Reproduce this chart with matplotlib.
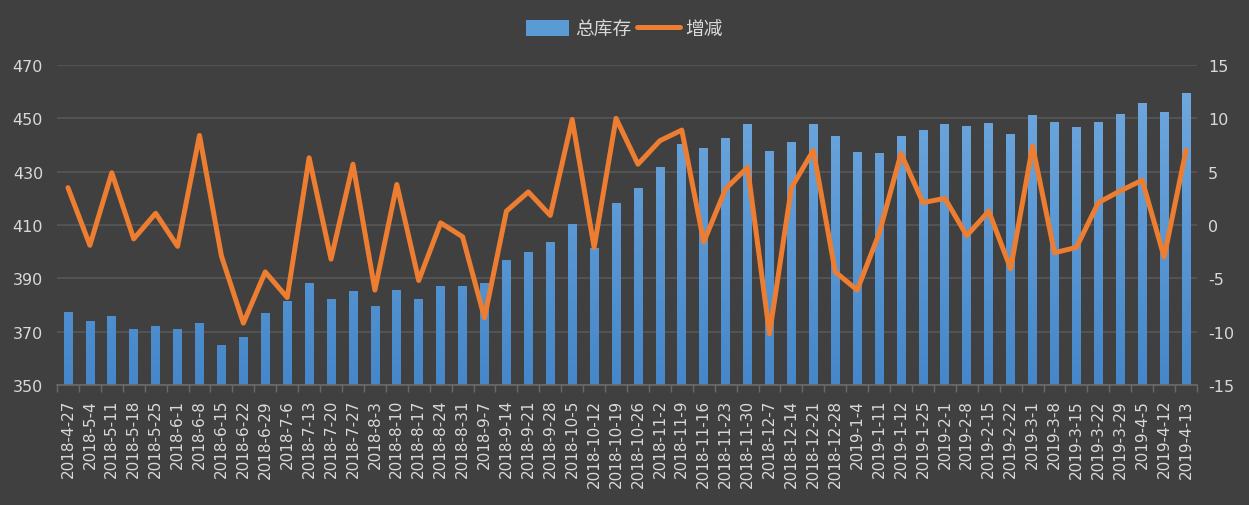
import matplotlib.pyplot as plt
import numpy as np
from matplotlib.colors import LinearSegmentedColormap

plt.rcParams['font.family'] = ['DejaVu Sans', 'Noto Sans CJK SC']
plt.rcParams['axes.unicode_minus'] = False

dates = ['2018-4-27', '2018-5-4', '2018-5-11', '2018-5-18', '2018-5-25', '2018-6-1',
         '2018-6-8', '2018-6-15', '2018-6-22', '2018-6-29', '2018-7-6', '2018-7-13',
         '2018-7-20', '2018-7-27', '2018-8-3', '2018-8-10', '2018-8-17', '2018-8-24',
         '2018-8-31', '2018-9-7', '2018-9-14', '2018-9-21', '2018-9-28', '2018-10-5',
         '2018-10-12', '2018-10-19', '2018-10-26', '2018-11-2', '2018-11-9', '2018-11-16',
         '2018-11-23', '2018-11-30', '2018-12-7', '2018-12-14', '2018-12-21', '2018-12-28',
         '2019-1-4', '2019-1-11', '2019-1-12', '2019-1-25', '2019-2-1', '2019-2-8',
         '2019-2-15', '2019-2-22', '2019-3-1', '2019-3-8', '2019-3-15', '2019-3-22',
         '2019-3-29', '2019-4-5', '2019-4-12', '2019-4-13']

# 总库存 (left axis)
stock = [377.5, 374.1, 375.9, 371.0, 372.1, 371.0, 373.4, 365.0, 368.0, 377.1,
         381.5, 388.3, 382.3, 385.3, 379.6, 385.6, 382.1, 387.3, 387.3, 388.3,
         396.9, 399.9, 403.6, 410.4, 401.5, 418.3, 423.9, 431.8, 440.4, 438.9,
         442.6, 447.9, 437.8, 441.1, 447.9, 443.4, 437.4, 437.0, 443.4, 445.6,
         447.9, 447.1, 448.3, 444.1, 451.3, 448.6, 446.8, 448.6, 451.6, 455.8,
         452.4, 459.5]

# 增减 (right axis)
change = [3.5, -1.9, 4.9, -1.3, 1.1, -2.0, 8.4, -2.9, -9.2, -4.4,
          -6.8, 6.3, -3.2, 5.7, -6.1, 3.8, -5.2, 0.2, -1.1, -8.7,
          1.3, 3.1, 0.9, 9.9, -2.1, 10.0, 5.7, 7.9, 8.9, -1.6,
          3.4, 5.4, -10.2, 3.5, 7.0, -4.4, -6.1, -0.8, 6.7, 2.1,
          2.5, -1.0, 1.3, -4.1, 7.4, -2.6, -2.1, 2.1, 3.2, 4.2,
          -3.0, 7.0]

bg = '#404040'
txt = '#d9d9d9'
grid_c = '#575757'

fig = plt.figure(figsize=(12.49, 5.06), dpi=100, facecolor=bg)
ax = fig.add_axes([57 / 1249, 1 - 386 / 506, 1140 / 1249, 320 / 506])
ax.set_facecolor(bg)

x = np.arange(len(dates))
bars = ax.bar(x, stock, width=0.4, color='#5b9bd5', zorder=2, label='总库存')

# vertical gradient inside each bar
cmap = LinearSegmentedColormap.from_list('blu', ['#4587c9', '#72aadf'])
grad = np.linspace(0, 1, 64).reshape(-1, 1)
for b in bars:
    x0 = b.get_x()
    im = ax.imshow(grad, extent=[x0, x0 + b.get_width(), 350, 470], origin='lower',
                   aspect='auto', cmap=cmap, zorder=2.1)
    im.set_clip_path(b)

ax.set_xlim(-0.5, len(dates) - 0.5)
ax.set_ylim(350, 470)
ax.set_yticks(range(350, 471, 20))
ax.yaxis.grid(True, color=grid_c, linewidth=1.2, zorder=0)
ax.set_axisbelow(True)

ax.set_xticks(x)
ax.set_xticklabels(dates, rotation=90, fontsize=11, color=txt)
ax.set_xticks(np.arange(-0.5, len(dates)), minor=True)
ax.tick_params(axis='x', which='major', length=0, pad=10)
ax.tick_params(axis='x', which='minor', length=5, color='#6a6a6a', width=1)
ax.tick_params(axis='y', length=0, labelsize=11.5, labelcolor=txt, pad=10)

for s in ['top', 'left', 'right']:
    ax.spines[s].set_visible(False)
ax.spines['bottom'].set_color('#6a6a6a')
ax.spines['bottom'].set_linewidth(1.2)
ax.spines['bottom'].set_zorder(3)

ax2 = ax.twinx()
line, = ax2.plot(x, change, color='#ed7d31', linewidth=3.6, solid_joinstyle='round',
                 solid_capstyle='round', label='增减', zorder=4)
ax2.set_ylim(-15, 15)
ax2.set_yticks(range(-15, 16, 5))
ax2.tick_params(axis='y', length=0, labelsize=11.5, labelcolor=txt, pad=8)
for s in ['top', 'left', 'right', 'bottom']:
    ax2.spines[s].set_visible(False)

leg = fig.legend([bars, line], ['总库存', '增减'], loc='center', bbox_to_anchor=(0.5, 1 - 30 / 506),
                 ncol=2, frameon=False, handlelength=2.3, handletextpad=0.3, handleheight=0.9,
                 columnspacing=0.3, prop={'family': ['Noto Sans CJK SC', 'DejaVu Sans'], 'size': 13.5})
for t in leg.get_texts():
    t.set_color(txt)

fig.savefig('out.png', dpi=100, facecolor=bg)
